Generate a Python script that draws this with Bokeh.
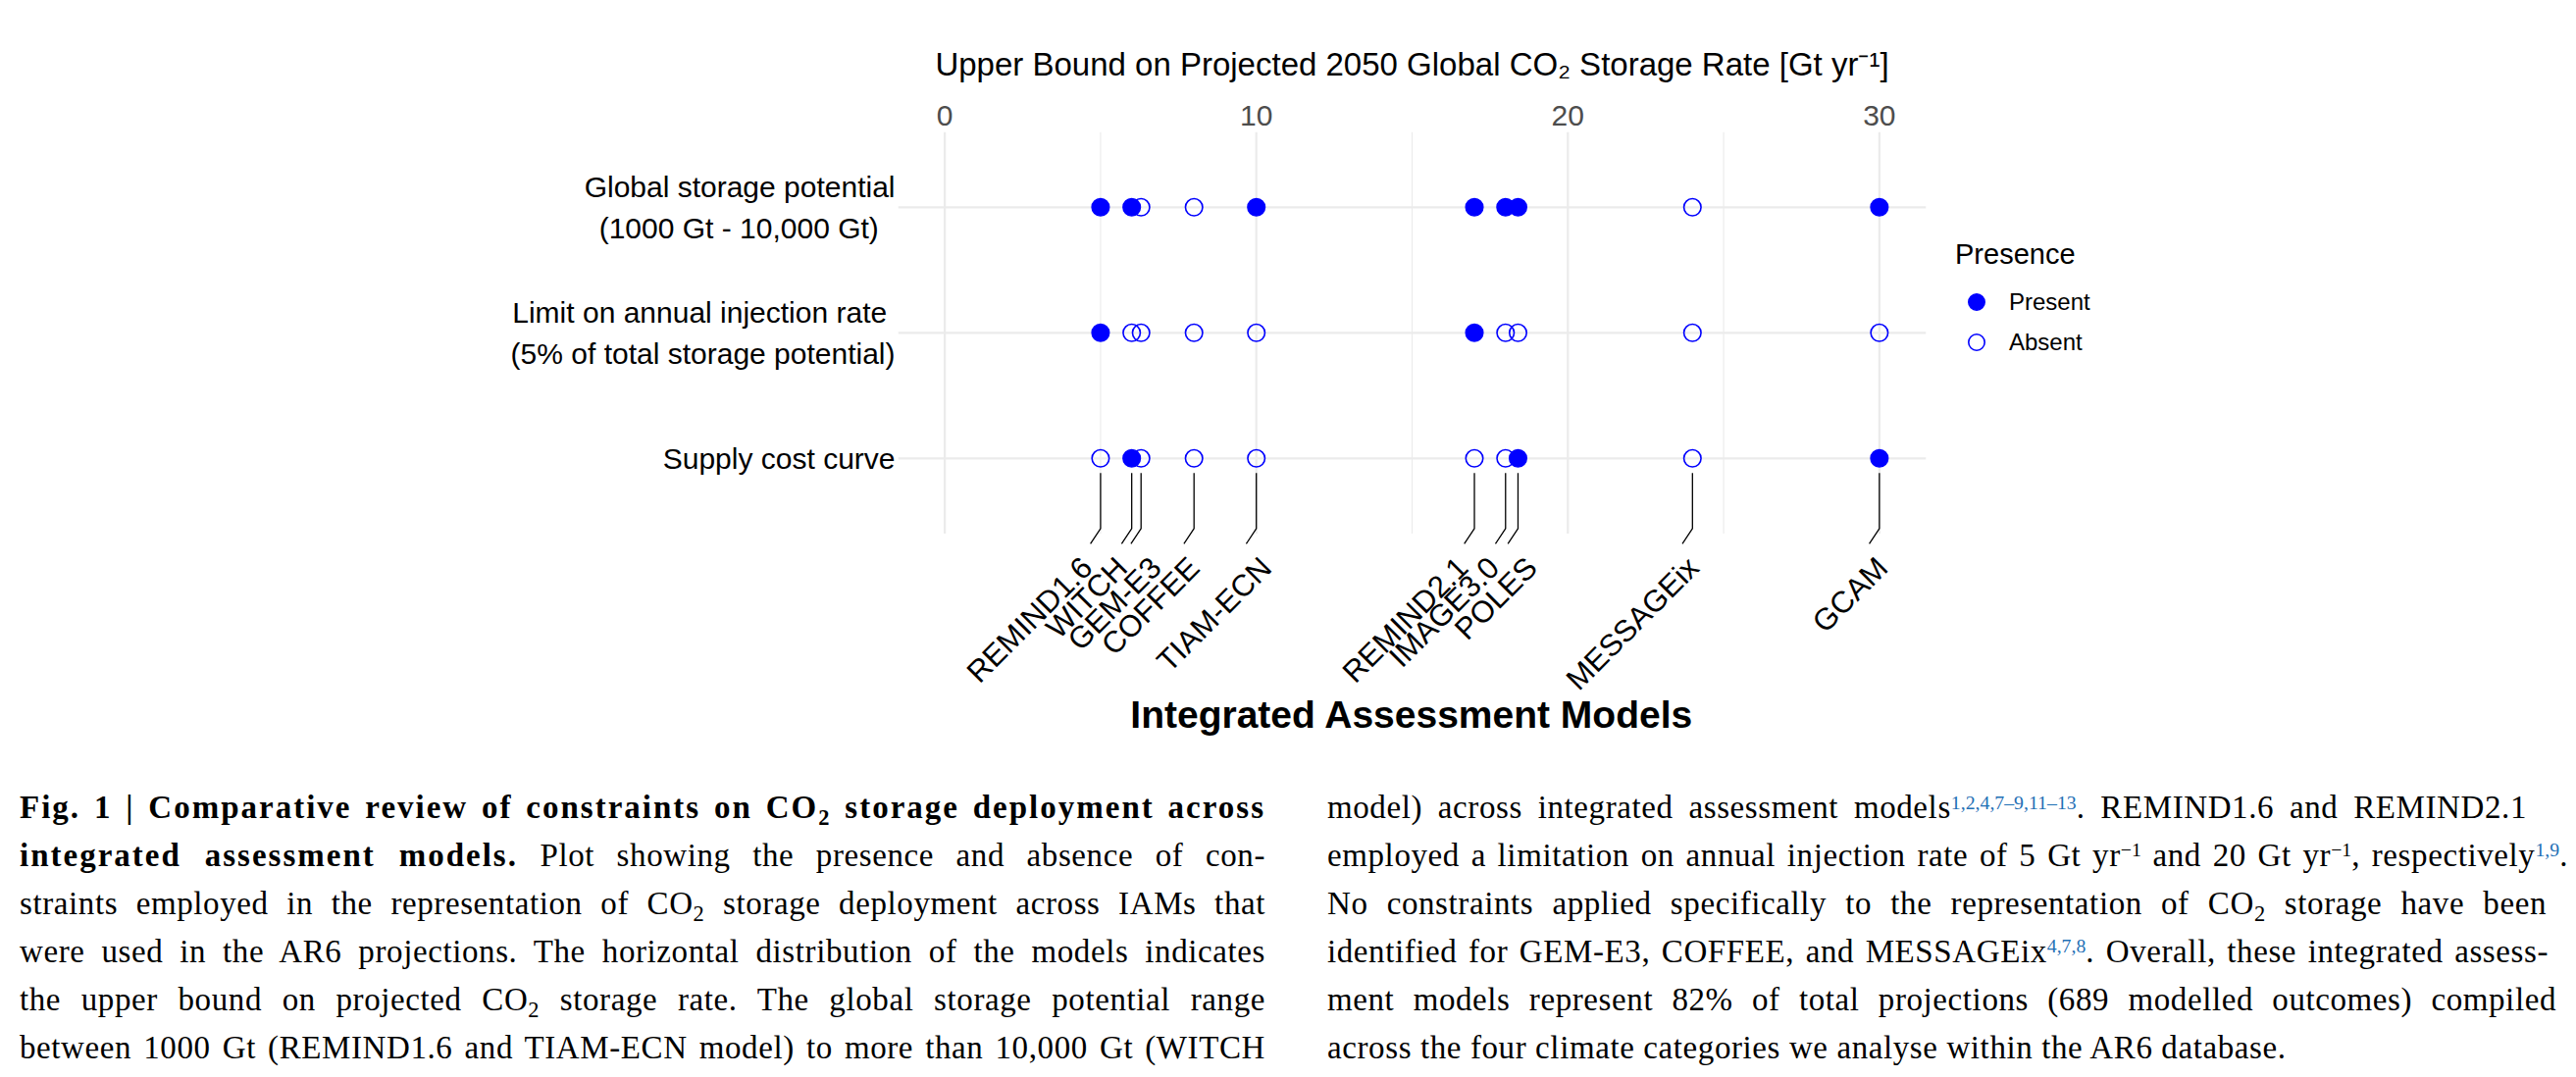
import math
from bokeh.plotting import figure
from bokeh.models import (ColumnDataSource, Range1d, LinearAxis, FixedTicker,
                          Legend, LegendItem, Div)
from bokeh.layouts import column
from bokeh.core.properties import value
from bokeh.embed import file_html
from bokeh.resources import INLINE

# ---------------- data ----------------
models = ["REMIND1.6", "WITCH", "GEM-E3", "COFFEE", "TIAM-ECN",
          "REMIND2.1", "IMAGE3.0", "POLES", "MESSAGEix", "GCAM"]
storage_rate = [5.0, 6.0, 6.3, 8.0, 10.0, 17.0, 18.0, 18.4, 24.0, 30.0]

NB = "\u00a0"
constraints = ["Global storage potential\n(1000 Gt - 10,000 Gt)" + NB * 2,
               "Limit on annual injection rate" + NB + "\n(5% of total storage potential)",
               "Supply cost curve"]
constraint_rows = [3, 2, 1]

global_storage_potential = [1, 1, 0, 0, 1, 1, 1, 1, 0, 1]
injection_rate_limit     = [1, 0, 0, 0, 0, 1, 0, 0, 0, 0]
supply_cost_curve        = [0, 1, 0, 0, 0, 0, 0, 1, 0, 1]
presence_table = [global_storage_potential, injection_rate_limit, supply_cost_curve]

x_ticks = [0, 10, 20, 30]
x_minor_ticks = [5, 15, 25]

# label nudges (px) used to keep neighbouring model names apart
label_nudge_px = [-14, -10, 15, 0, 10, -12, -12, 14, 1, 3]

# ---------------- long table ----------------
pres_x, pres_y, abs_x, abs_y = [], [], [], []
for yv, flags in zip(constraint_rows, presence_table):
    for xv, f in zip(storage_rate, flags):
        if f:
            pres_x.append(xv); pres_y.append(yv)
        else:
            abs_x.append(xv); abs_y.append(yv)
src_present = ColumnDataSource(dict(x=pres_x, y=pres_y))
src_absent = ColumnDataSource(dict(x=abs_x, y=abs_y))

# ---------------- figure ----------------
W, H = 2618, 778
FRAME_LEFT, FRAME_W = 915, 1048
FRAME_TOP, FRAME_H = 134, 590
PX_PER_ROW = 128.0
Y_TOP = 3.6
Y_BOT = Y_TOP - FRAME_H / PX_PER_ROW
X0, X1 = -1.5, 31.5
FONT = "Liberation Sans"

p = figure(width=W, height=H, output_backend="svg", toolbar_location=None,
           x_range=Range1d(X0, X1), y_range=Range1d(Y_BOT, Y_TOP),
           x_axis_location="above",
           min_border_left=FRAME_LEFT, min_border_right=W - FRAME_LEFT - FRAME_W,
           min_border_top=FRAME_TOP, min_border_bottom=H - FRAME_TOP - FRAME_H)
p.outline_line_color = None
p.background_fill_color = "white"
p.border_fill_color = "white"
p.xgrid.visible = False
p.ygrid.visible = False

# top axis
xa = p.xaxis[0]
xa.ticker = FixedTicker(ticks=x_ticks)
xa.axis_label = "Upper Bound on Projected 2050 Global CO\u2082 Storage Rate [Gt yr\u207b\u00b9]"
xa.axis_label_text_font = FONT
xa.axis_label_text_font_size = "33px"
xa.axis_label_text_font_style = "normal"
xa.axis_label_text_color = "black"
xa.axis_label_standoff = 21
xa.axis_line_color = None
xa.major_tick_line_color = None
xa.minor_tick_line_color = None
xa.major_tick_out = 0
xa.minor_tick_out = 0
xa.major_label_text_font = FONT
xa.major_label_text_font_size = "30px"
xa.major_label_text_color = "#4D4D4D"
xa.major_label_standoff = 7

# left axis
ya = p.yaxis[0]
ya.ticker = FixedTicker(ticks=constraint_rows)
ya.major_label_overrides = {r: c for r, c in zip(constraint_rows, constraints)}
ya.axis_line_color = None
ya.major_tick_line_color = None
ya.minor_tick_line_color = None
ya.major_tick_out = 0
ya.minor_tick_out = 0
ya.major_label_text_font = FONT
ya.major_label_text_font_size = "30px"
ya.major_label_text_color = "black"
ya.major_label_text_line_height = 1.27
ya.major_label_standoff = 3

# bottom axis (title only)
ba = LinearAxis(ticker=FixedTicker(ticks=[]), axis_label="Integrated Assessment Models")
ba.axis_line_color = None
ba.major_tick_line_color = None
ba.minor_tick_line_color = None
ba.major_tick_out = 0
ba.minor_tick_out = 0
ba.major_label_standoff = 0
ba.axis_label_text_font = FONT
ba.axis_label_text_font_size = "39px"
ba.axis_label_text_font_style = "bold"
ba.axis_label_text_color = "black"
ba.axis_label_standoff = -18
p.add_layout(ba, "below")

# panel grid lines (panel spans rows 0.4 .. 3.6)
PANEL_Y0, PANEL_Y1 = 0.4, 3.6
GRID = "#EBEBEB"
p.segment(x0=x_minor_ticks, x1=x_minor_ticks, y0=[PANEL_Y0] * 3, y1=[PANEL_Y1] * 3,
          line_color=GRID, line_width=1.1)
p.segment(x0=x_ticks, x1=x_ticks, y0=[PANEL_Y0] * 4, y1=[PANEL_Y1] * 4,
          line_color=GRID, line_width=2.2)
p.segment(x0=[X0] * 3, x1=[X1] * 3, y0=constraint_rows, y1=constraint_rows,
          line_color=GRID, line_width=2.2)

# leader lines
LEAD_TOP, LEAD_KNEE, LEAD_END = 0.884, 0.44, 0.319
KINK_DX = 10.3 * (X1 - X0) / FRAME_W
lead_xs = [[v, v, v - KINK_DX] for v in storage_rate]
lead_ys = [[LEAD_TOP, LEAD_KNEE, LEAD_END] for _ in storage_rate]
p.multi_line(lead_xs, lead_ys, line_color="black", line_width=1.3)

# points
BLUE = "#0000FF"
r_absent = p.scatter("x", "y", source=src_absent, marker="circle", size=17.5,
                     fill_color=None, line_color=BLUE, line_width=1.6)
r_present = p.scatter("x", "y", source=src_present, marker="circle", size=17.5,
                      fill_color=BLUE, line_color=BLUE, line_width=1.6)

# model labels
lab_src = ColumnDataSource(dict(x=storage_rate, y=[LEAD_END] * len(models),
                                text=models, xo=label_nudge_px))
p.text(x="x", y="y", text="text", source=lab_src,
       angle=math.pi / 4, text_align="right", text_baseline="middle",
       x_offset="xo", y_offset=19,
       text_font=value(FONT), text_font_size="31px", text_color="black")

# legend (in the right side panel)
legend = Legend(items=[LegendItem(label="Present", renderers=[r_present]),
                       LegendItem(label="Absent", renderers=[r_absent])],
                title="Presence", location=(30, 355))
legend.title_text_font = FONT
legend.title_text_font_size = "29px"
legend.title_text_font_style = "normal"
legend.title_text_color = "black"
legend.title_standoff = 11
legend.label_text_font = FONT
legend.label_text_font_size = "24px"
legend.label_text_color = "black"
legend.glyph_width = 43
legend.glyph_height = 41
legend.label_height = 41
legend.label_standoff = 12
legend.spacing = 0
legend.padding = 10
legend.margin = 0
legend.border_line_color = None
legend.background_fill_color = "white"
legend.background_fill_alpha = 0
p.add_layout(legend, "right")

# ---------------- caption ----------------
SUB2 = '<span style="position:relative;top:0.3em;font-size:0.68em;line-height:0">2</span>'

def ref(s):
    return ('<span style="position:relative;top:-0.5em;font-size:0.6em;line-height:0;'
            'letter-spacing:0;color:#1F70B5">%s</span>' % s)

def sup(s):
    return ('<span style="position:relative;top:-0.5em;font-size:0.6em;line-height:0;'
            'letter-spacing:0">%s</span>' % s)

def bold(s):
    return '<b style="letter-spacing:2px">%s</b>' % s

left_lines = [
    bold("Fig. 1 | Comparative review of constraints on CO%s storage deployment across" % SUB2),
    bold("integrated assessment models.") + " Plot showing the presence and absence of con-",
    "straints employed in the representation of CO%s storage deployment across IAMs that" % SUB2,
    "were used in the AR6 projections. The horizontal distribution of the models indicates",
    "the upper bound on projected CO%s storage rate. The global storage potential range" % SUB2,
    "between 1000 Gt (REMIND1.6 and TIAM-ECN model) to more than 10,000 Gt (WITCH",
]
right_lines = [
    "model) across integrated assessment models%s. REMIND1.6 and REMIND2.1" % ref("1,2,4,7\u20139,11\u201313"),
    "employed a limitation on annual injection rate of 5 Gt yr%s and 20 Gt yr%s, respectively%s."
    % (sup("\u22121"), sup("\u22121"), ref("1,9")),
    "No constraints applied specifically to the representation of CO%s storage have been" % SUB2,
    "identified for GEM-E3, COFFEE, and MESSAGEix%s. Overall, these integrated assess-" % ref("4,7,8"),
    "ment models represent 82% of total projections (689 modelled outcomes) compiled",
    "across the four climate categories we analyse within the AR6 database.",
]
left_x, left_w = 20, 1270
right_x = 1353
right_w = [1223, 1265, 1243, 1245, 1253, None]
LINE_H = 48.9
TOP0 = 21.4

parts = []
for i, t in enumerate(left_lines):
    parts.append('<div style="position:absolute;left:%dpx;top:%.1fpx;width:%dpx;height:49px;'
                 'line-height:49px;white-space:nowrap;text-align:justify;text-align-last:justify">%s</div>'
                 % (left_x, TOP0 + LINE_H * i, left_w, t))
for i, t in enumerate(right_lines):
    if right_w[i] is None:
        parts.append('<div style="position:absolute;left:%dpx;top:%.1fpx;height:49px;'
                     'line-height:49px;white-space:nowrap;text-align:left">%s</div>'
                     % (right_x, TOP0 + LINE_H * i, t))
    else:
        parts.append('<div style="position:absolute;left:%dpx;top:%.1fpx;width:%dpx;height:49px;'
                     'line-height:49px;white-space:nowrap;text-align:justify;text-align-last:justify">%s</div>'
                     % (right_x, TOP0 + LINE_H * i, right_w[i], t))

CAP_H = 318
html = ('<div style="position:relative;width:%dpx;height:%dpx;font-family:\'Liberation Serif\',serif;'
        'font-size:33px;letter-spacing:0.6px;color:#000">%s</div>' % (W, CAP_H, "".join(parts)))
caption = Div(text=html, width=W, height=CAP_H, margin=(0, 0, 0, 0))

layout = column(p, caption, spacing=0)
open("out.html", "w").write(file_html(layout, INLINE))
